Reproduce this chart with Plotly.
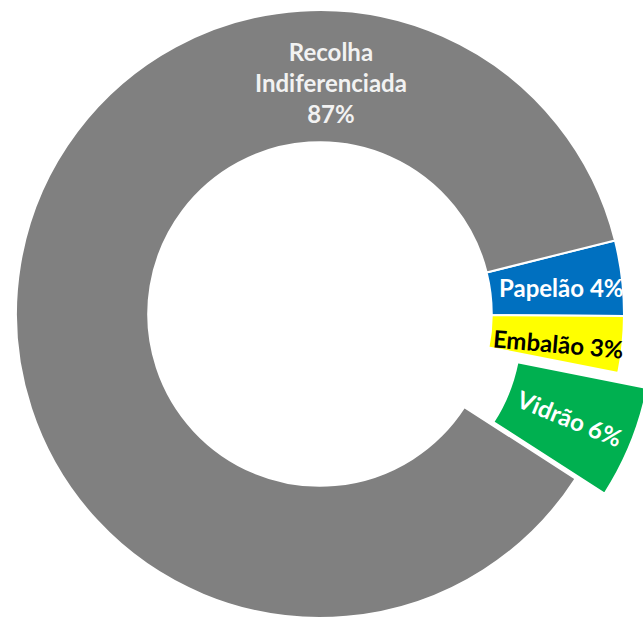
import plotly.graph_objects as go

# Waste collection share by stream
labels = ["Papelão", "Embalão", "Vidrão", "Recolha Indiferenciada"]
values = [4, 3, 6, 87]
colors = ["#0070C0", "#FFFF00", "#00B050", "#808080"]
text_colors = ["#FFFFFF", "#000000", "#FFFFFF", "#F2F2F2"]

# figure canvas and donut geometry (pixels)
W, H = 680, 660
cx, cy, R = 320, 314, 304
hole = 0.565
rotation = 76              # first slice starts 14 deg above 3 o'clock
pull_idx = 2               # exploded slice (Vidrão)
pull_offset = (29, 15)     # exploded slice displacement, px
font_family = "Lato"
font_size = 24

# label placement (px centre, rotation in degrees)
label_pos = {
    0: (561, 288, 0),
    1: (558, 343, 5),
    3: (331, 82, 0),
}

TRANSPARENT = "rgba(0,0,0,0)"


def domain_for(center_x, center_y, radius):
    return dict(
        x=[(center_x - radius) / W, (center_x + radius) / W],
        y=[1 - (center_y + radius) / H, 1 - (center_y - radius) / H],
    )


main_colors = [c if i != pull_idx else TRANSPARENT for i, c in enumerate(colors)]
main_lines = [2 if i != pull_idx else 0 for i in range(len(values))]

fig = go.Figure()

# ring with every slice except the exploded one
fig.add_trace(go.Pie(
    labels=labels, values=values, sort=False, direction="clockwise",
    rotation=rotation, hole=hole,
    marker=dict(colors=main_colors, line=dict(color="white", width=main_lines)),
    textinfo="none",
    domain=domain_for(cx, cy, R), showlegend=False, hoverinfo="label+percent",
))

# exploded slice, drawn with its centre shifted outwards
ex_colors = [c if i == pull_idx else TRANSPARENT for i, c in enumerate(colors)]
ex_lines = [2 if i == pull_idx else 0 for i in range(len(values))]
ex_text = [f"{l} {v}%" if i == pull_idx else "" for i, (l, v) in enumerate(zip(labels, values))]
fig.add_trace(go.Pie(
    labels=labels, values=values, sort=False, direction="clockwise",
    rotation=rotation, hole=hole,
    marker=dict(colors=ex_colors, line=dict(color="white", width=ex_lines)),
    text=ex_text, textinfo="text", textposition="inside",
    insidetextorientation="radial",
    insidetextfont=dict(family=font_family, size=font_size, color=text_colors, weight="bold"),
    domain=domain_for(cx + pull_offset[0], cy + pull_offset[1], R),
    showlegend=False, hoverinfo="label+percent",
))

# slice labels
for i, (px, py, ang) in label_pos.items():
    name = labels[i].replace(" ", "<br>") if i == 3 else labels[i]
    sep = "<br>" if i == 3 else " "
    fig.add_annotation(
        x=px / W, y=1 - py / H, xref="paper", yref="paper",
        text=f"{name}{sep}{values[i]}%", textangle=ang,
        showarrow=False, xanchor="center", yanchor="middle",
        font=dict(family=font_family, size=font_size, color=text_colors[i], weight="bold"),
    )

fig.update_layout(
    width=W, height=H, autosize=False,
    margin=dict(l=0, r=0, t=0, b=0),
    paper_bgcolor="white", plot_bgcolor="white",
    uniformtext=dict(minsize=font_size, mode="show"),
)

fig.write_html("out.html", post_script="document.body.style.overflow='hidden';")
